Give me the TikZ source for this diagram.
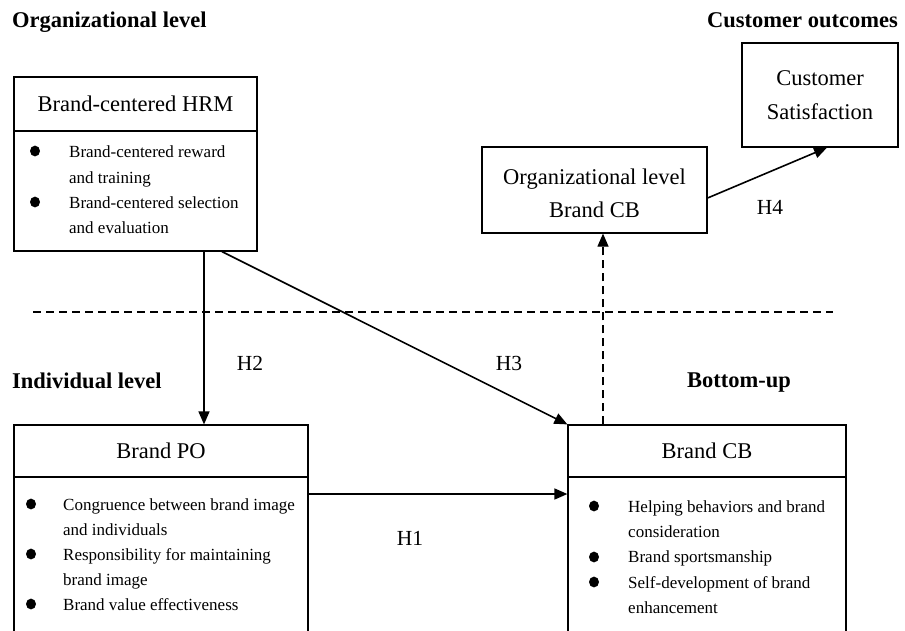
\documentclass[tikz,border=0pt]{standalone}
\usepackage{fontspec}
\setmainfont{Liberation Serif}
\usetikzlibrary{arrows.meta,calc}
\begin{document}
\begin{tikzpicture}[x=1pt,y=-1pt,
  box/.style={draw,line width=1.2pt,inner sep=0pt},
  ttl/.style={anchor=base,inner sep=0pt,font=\fontsize{22.5}{26}\selectfont},
  lvl/.style={anchor=base west,inner sep=0pt,font=\fontsize{22.5}{26}\selectfont\bfseries},
  hyp/.style={anchor=base,inner sep=0pt,font=\fontsize{21.5}{25}\selectfont},
  btxt/.style={anchor=base west,inner sep=0pt,font=\fontsize{17}{20}\selectfont},
  arr/.style={line width=1.6pt,-{Triangle[length=13pt,width=11pt]}},
  dsh/.style={line width=1.1pt,dash pattern=on 8pt off 5pt}]
\useasboundingbox (0,0) rectangle (905,630);
\clip (0,0) rectangle (905,630);
% boxes
\node[box,minimum width=243pt,minimum height=174pt] (hrm) at (135.5,164) {};
\node[box,minimum width=294pt,minimum height=225pt] (po) at (161,537.5) {};
\node[box,minimum width=278pt,minimum height=225pt] (cb) at (707,537.5) {};
\node[box,minimum width=225pt,minimum height=86pt] (orgcb) at (594.5,190) {};
\node[box,minimum width=156pt,minimum height=104pt] (cs) at (820,95) {};
% dividers
\draw[line width=1.2pt] (hrm.west |- 0,131) -- (hrm.east |- 0,131);
\draw[line width=1.2pt] (po.west |- 0,477) -- (po.east |- 0,477);
\draw[line width=1.2pt] (cb.west |- 0,477) -- (cb.east |- 0,477);
% titles
\node[ttl] (thrm) at (135.5,111) {Brand-centered HRM};
\node[ttl] (tpo) at (161,458) {Brand PO};
\node[ttl] (tcb) at (707,458) {Brand CB};
\node[ttl] (torg1) at (594.5,184) {Organizational level};
\node[ttl] (torg2) at (594.5,217) {Brand CB};
\node[ttl] (tcs1) at (820,85) {Customer};
\node[ttl] (tcs2) at (820,119) {Satisfaction};
% level labels
\node[lvl] (lorg) at (12,27) {Organizational level};
\node[lvl] (lcus) at (707,27) {Customer outcomes};
\node[lvl] (lind) at (12,388) {Individual level};
\node[lvl] (lbot) at (687,387) {Bottom-up};
% HRM bullets
\fill (35,151) ellipse (5pt and 5.4pt);
\fill (35,202) ellipse (5pt and 5.4pt);
\node[btxt] (h1) at (69,157) {Brand-centered reward};
\node[btxt] (h2) at (69,183) {and training};
\node[btxt] (h3) at (69,208) {Brand-centered selection};
\node[btxt] (h4) at (69,233) {and evaluation};
% PO bullets
\fill (31,504) ellipse (5pt and 5.4pt);
\fill (31,554) ellipse (5pt and 5.4pt);
\fill (31,604) ellipse (5pt and 5.4pt);
\node[btxt] (p1) at (63,510) {Congruence between brand image};
\node[btxt] (p2) at (63,535) {and individuals};
\node[btxt] (p3) at (63,560) {Responsibility for maintaining};
\node[btxt] (p4) at (63,585) {brand image};
\node[btxt] (p5) at (63,610) {Brand value effectiveness};
% CB bullets
\fill (594,506) ellipse (5pt and 5.4pt);
\fill (594,557) ellipse (5pt and 5.4pt);
\fill (594,582) ellipse (5pt and 5.4pt);
\node[btxt] (c1) at (628,512) {Helping behaviors and brand};
\node[btxt] (c2) at (628,537) {consideration};
\node[btxt] (c3) at (628,562) {Brand sportsmanship};
\node[btxt] (c4) at (628,588) {Self-development of brand};
\node[btxt] (c5) at (628,613) {enhancement};
% dashed separator
\coordinate (dl) at (33,312);
\coordinate (dr) at (833,312);
\draw[dsh] (dl) -- (dr);
% arrows
\draw[arr] (hrm.south -| 204,0) -- (po.north -| 204,0);
\draw[arr] (hrm.south -| 222,0) -- (cb.north west);
\draw[arr] (po.east |- 0,494) -- (cb.west |- 0,494);
\draw[arr,line width=1.2pt,dash pattern=on 8pt off 5pt] (cb.north -| 603,0) -- (orgcb.south -| 603,0);
\draw[arr] (orgcb.east |- 0,198) -- (cs.south -| 827,0);
% hypothesis labels
\node[hyp] (H1) at (410,545) {H1};
\node[hyp] (H2) at (250,370) {H2};
\node[hyp] (H3) at (509,370) {H3};
\node[hyp] (H4) at (770,214) {H4};
\end{tikzpicture}
\end{document}
